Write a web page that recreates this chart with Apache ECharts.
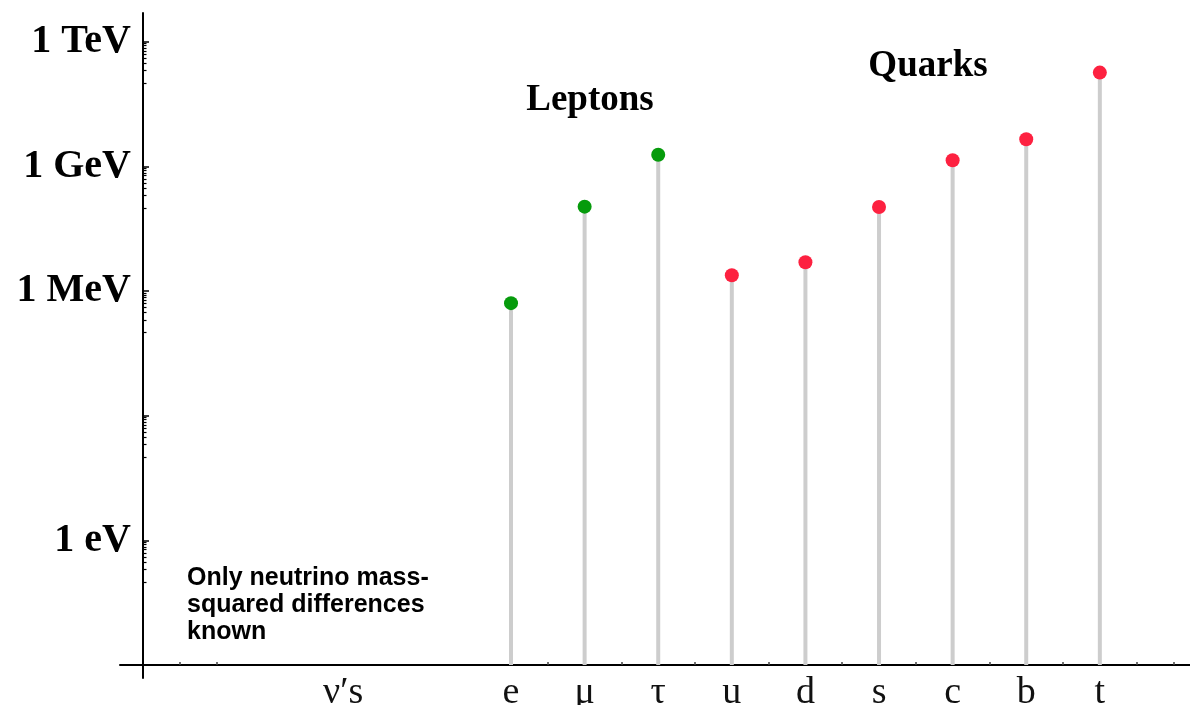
<!DOCTYPE html>
<html>
<head>
<meta charset="utf-8">
<script src="https://cdn.jsdelivr.net/npm/echarts@6/dist/echarts.min.js"></script>
<style>html,body{margin:0;padding:0;background:#fff;}#chart{width:1190px;height:705px;}</style>
</head>
<body>
<div id="chart"></div>
<script>
// ---- data ----
const categoryNames = ['ν′s', 'e', 'μ', 'τ', 'u', 'd', 's', 'c', 'b', 't'];
const categoryPositions = [2.72, 5, 6, 7, 8, 9, 10, 11, 12, 13];
const leptonPositions = [5, 6, 7];
const leptonMassesEV = [5.1e5, 1.07e8, 1.9e9];
const quarkPositions = [8, 9, 10, 11, 12, 13];
const quarkMassesEV = [2.4e6, 4.9e6, 1.05e8, 1.4e9, 4.5e9, 1.8e11];
const yLabelNames = ['1 eV', '1 MeV', '1 GeV', '1 TeV'];
const yLabelExponents = [0, 6, 9, 12];
const yMajorExponents = [0, 3, 6, 9, 12];
const minorMultipliers = [1, 2, 3, 4, 5, 6, 7, 8, 9];
const xTickPositions = [0.5, 1, 5, 5.5, 6, 6.5, 7, 7.5, 8, 8.5, 9, 9.5, 10, 10.5, 11, 11.5, 12, 12.5, 13, 13.5, 14];

// axis floor: 1 meV sits on the horizontal axis
const FLOOR_EXP = -3;
const toY = (ev) => Math.log10(ev) - FLOOR_EXP;

const majorTickVals = yMajorExponents.map(e => e - FLOOR_EXP);
const labelTickVals = yLabelExponents.map(e => e - FLOOR_EXP);
const minorTickVals = [];
yMajorExponents.forEach(e => {
  minorMultipliers.forEach(k => minorTickVals.push(Math.log10(k) + (e - 1) - FLOOR_EXP));
});

const stemData = leptonPositions.map((x, i) => [x, toY(leptonMassesEV[i])])
  .concat(quarkPositions.map((x, i) => [x, toY(quarkMassesEV[i])]));
const leptonData = leptonPositions.map((x, i) => [x, toY(leptonMassesEV[i])]);
const quarkData = quarkPositions.map((x, i) => [x, toY(quarkMassesEV[i])]);

const X_MIN = -0.3125, X_MAX = 14.225, Y_MIN = -0.313, Y_MAX = 15.69;

const chart = echarts.init(document.getElementById('chart'));
chart.setOption({
  animation: false,
  backgroundColor: '#ffffff',
  grid: { left: 120, right: 0, top: 13, bottom: 27, containLabel: false, outerBoundsMode: 'none' },
  xAxis: [{
    type: 'value', min: X_MIN, max: X_MAX,
    splitLine: { show: false },
    axisLine: { show: true, onZero: true, lineStyle: { color: '#000', width: 2 } },
    axisTick: { show: true, inside: true, length: 3, customValues: xTickPositions, lineStyle: { color: '#444', width: 1.5 } },
    axisLabel: {
      show: true, customValues: categoryPositions, margin: -4,
      fontFamily: 'Liberation Serif', fontSize: 38, color: '#111',
      formatter: (v) => { const i = categoryPositions.findIndex(p => Math.abs(p - v) < 1e-6); return i >= 0 ? categoryNames[i] : ''; }
    }
  }],
  yAxis: [{
    type: 'value', min: Y_MIN, max: Y_MAX,
    splitLine: { show: false },
    axisLine: { show: true, onZero: true, lineStyle: { color: '#000', width: 2 } },
    axisTick: { show: true, inside: true, length: 6, customValues: majorTickVals, lineStyle: { color: '#000', width: 1.5 } },
    axisLabel: {
      show: true, customValues: labelTickVals, margin: -11,
      fontFamily: 'Liberation Serif', fontWeight: 'bold', fontSize: 40, color: '#000',
      formatter: (v) => { const i = labelTickVals.findIndex(p => Math.abs(p - v) < 1e-6); return i >= 0 ? yLabelNames[i] : ''; }
    }
  }, {
    type: 'value', min: Y_MIN, max: Y_MAX, position: 'left', offset: -23,
    splitLine: { show: false },
    axisLine: { show: false, onZero: false },
    axisTick: { show: true, inside: true, length: 3.5, customValues: minorTickVals, lineStyle: { color: '#000', width: 1.2 } },
    axisLabel: { show: false }
  }],
  graphic: [
    { type: 'text', x: 590, y: 100, style: { text: 'Leptons', font: 'bold 37px "Liberation Serif"', fill: '#000', textAlign: 'center', textVerticalAlign: 'middle' } },
    { type: 'text', x: 928, y: 66, style: { text: 'Quarks', font: 'bold 37px "Liberation Serif"', fill: '#000', textAlign: 'center', textVerticalAlign: 'middle' } },
    { type: 'text', x: 187, y: 565, style: { text: 'Only neutrino mass-\nsquared differences\nknown', font: 'bold 25px "Liberation Sans"', lineHeight: 27, fill: '#000', textAlign: 'left', textVerticalAlign: 'top' } }
  ],
  series: [
    { type: 'bar', xAxisIndex: 0, yAxisIndex: 0, data: stemData, barWidth: 4, itemStyle: { color: '#cdcdcd' }, z: 1, silent: true },
    { type: 'scatter', xAxisIndex: 0, yAxisIndex: 0, data: leptonData, symbolSize: 14, itemStyle: { color: '#069b0c', opacity: 1 }, z: 3 },
    { type: 'scatter', xAxisIndex: 0, yAxisIndex: 0, data: quarkData, symbolSize: 14, itemStyle: { color: '#fd2140', opacity: 1 }, z: 3 }
  ]
});
</script>
</body>
</html>
